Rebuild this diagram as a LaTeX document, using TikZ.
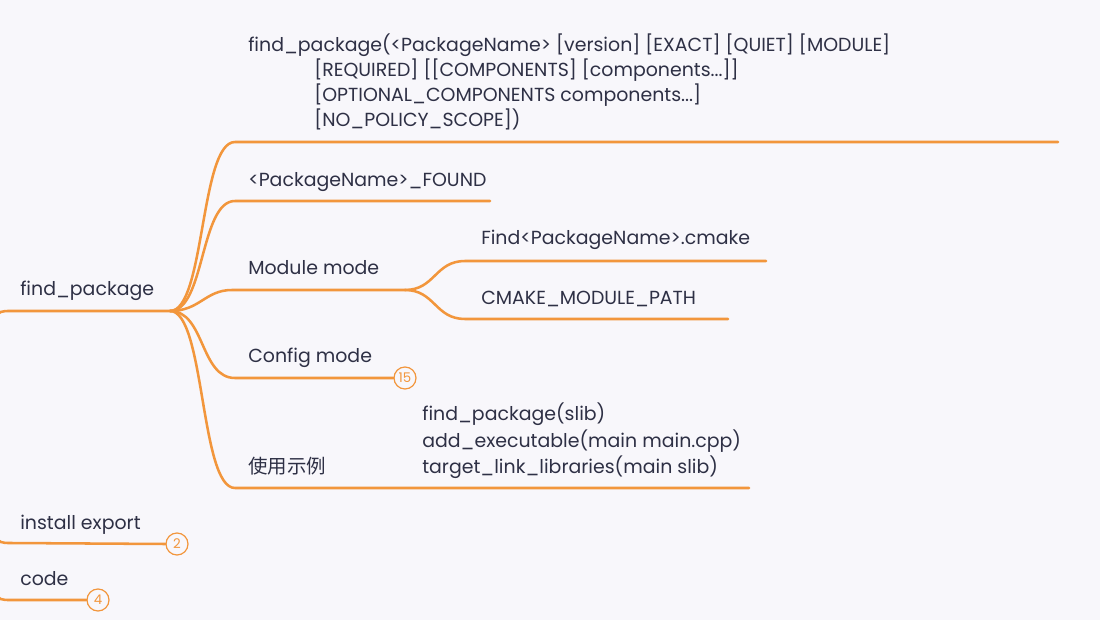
\documentclass[tikz,border=0pt]{standalone}
\usepackage{fontspec}
\setmainfont{Poppins}
\newfontfamily\cjkfont{Noto Sans CJK SC}
\definecolor{bgc}{HTML}{F8F7FB}
\definecolor{orng}{HTML}{F2963C}
\definecolor{txtc}{HTML}{2E3045}
\begin{document}
\begin{tikzpicture}[x=0.75pt,y=-0.75pt,
  branch/.style={draw=orng,line width=1.9pt,line cap=round},
  lbl/.style={anchor=base west,inner sep=0pt,text=txtc,font=\fontsize{14.2pt}{16pt}\selectfont},
  badge/.style={circle,draw=orng,line width=0.9pt,fill=bgc,text=orng,minimum size=16.5pt,inner sep=0pt,font=\fontsize{10pt}{11pt}\selectfont}]
\useasboundingbox (0,0) rectangle (1100,620);
\fill[bgc] (0,0) rectangle (1100,620);

% junctions
\coordinate (J) at (170,311);
\coordinate (M) at (405,290);
\coordinate (r0) at (-30,370);
\coordinate (i0) at (-30,480);
\coordinate (c0) at (-30,540);

% labels
\node[lbl] (root) at (20,296) {find\_package};
\node[lbl] (s1) at (248,52) {find\_package(<PackageName> [version] [EXACT] [QUIET] [MODULE]};
\node[lbl] (s2) at (314,77) {[REQUIRED] [[COMPONENTS] [components...]]};
\node[lbl] (s3) at (314,102) {[OPTIONAL\_COMPONENTS components...]};
\node[lbl] (s4) at (314,127) {[NO\_POLICY\_SCOPE])};
\node[lbl] (found) at (248,187) {<PackageName>\_FOUND};
\node[lbl] (mod) at (248,275) {Module mode};
\node[lbl] (findm) at (481,245) {Find<PackageName>.cmake};
\node[lbl] (cmp) at (481,305) {CMAKE\_MODULE\_PATH};
\node[lbl] (cfg) at (248,363) {Config mode};
\node[lbl] (ex) at (248,473) {\cjkfont\fontsize{14.6pt}{16pt}\selectfont 使用示例};
\node[lbl] (e1) at (422,421) {find\_package(slib)};
\node[lbl] (e2) at (422,447) {add\_executable(main main.cpp)};
\node[lbl] (e3) at (422,473) {target\_link\_libraries(main slib)};
\node[lbl] (inst) at (20,529) {install export};
\node[lbl] (code) at (20,585) {code};

% badges
\node[badge] (b15) at (405,378) {15};
\node[badge] (b2) at (177,544) {2};
\node[badge] (b4) at (98,600) {4};

% root line
\draw[branch] (r0) .. controls (-5,311) .. (10,311) -- (J);
% branches from root
\draw[branch] (J) .. controls (205,311) and (200,142) .. (235,142) -- (1058,142);
\draw[branch] (J) .. controls (205,311) and (200,201) .. (235,201) -- (490,201);
\draw[branch] (J) .. controls (200,311) and (205,290) .. (232,290) -- (M);
\draw[branch] (J) .. controls (205,311) and (200,378) .. (235,378) -- (b15.west);
\draw[branch] (J) .. controls (205,311) and (200,488) .. (235,488) -- (749,488);
% module mode sub-branches
\draw[branch] (M) .. controls (435,290) and (435,261) .. (465,261) -- (766,261);
\draw[branch] (M) .. controls (435,290) and (435,319) .. (465,319) -- (728,319);
% siblings
\draw[branch] (i0) .. controls (-5,543) .. (10,543) -- (b2.west);
\draw[branch] (c0) .. controls (-5,600) .. (10,600) -- (b4.west);
\end{tikzpicture}
\end{document}
